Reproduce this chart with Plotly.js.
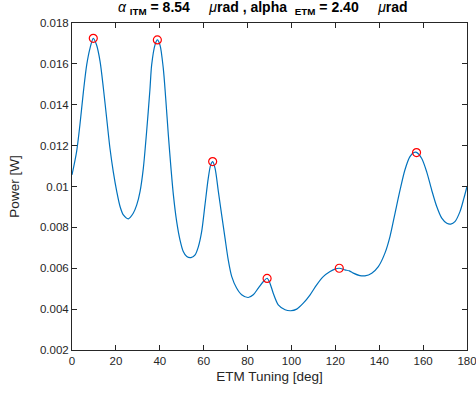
<!DOCTYPE html>
<html>
<head>
<meta charset="utf-8">
<script src="https://cdn.plot.ly/plotly-3.0.1.min.js"></script>
<style>html,body{margin:0;padding:0;background:#fff;}#chart{width:476px;height:394px;}</style>
</head>
<body>
<div id="chart"></div>
<script>
var tuningDeg = [0,2.1,3.6,5.2,6.7,8.2,9.7,11.2,12.8,14.3,15.8,17.3,18.8,20.4,21.9,23.4,25.7,27.9,29.5,31.0,32.5,34.0,35.5,36.3,37.8,38.9,40.1,41.6,42.7,43.9,45.1,46.2,47.7,49.2,50.7,52.3,54.2,56.1,57.6,59.1,60.6,62.1,63.2,64.1,65.2,66.7,68.2,69.7,71.2,72.8,75.0,77.3,80.3,82.6,84.9,87.2,88.9,90.2,91.7,94.0,97.1,99.7,102.4,105.4,108.5,111.5,114.5,117.6,119.8,121.8,124.4,126.4,128.2,131.2,133.5,136.6,139.6,142.6,144.9,147.2,149.5,151.7,154.0,155.8,157.0,159.3,161.6,163.9,166.2,168.5,170.8,172.6,174.5,176.8,178.6,180];
var powerW = [0.01057,0.01171,0.01301,0.01464,0.01595,0.01676,0.01725,0.01692,0.01611,0.01481,0.01334,0.01187,0.01073,0.00975,0.00902,0.00861,0.00842,0.00869,0.0091,0.00975,0.01089,0.01268,0.01472,0.01595,0.01692,0.01717,0.01692,0.01578,0.01432,0.01252,0.0109,0.00959,0.00828,0.00739,0.00682,0.00657,0.00652,0.00666,0.00706,0.0078,0.0091,0.01041,0.01106,0.01122,0.01089,0.00975,0.00861,0.0075,0.00641,0.00559,0.00503,0.0047,0.00457,0.0047,0.00503,0.00535,0.00551,0.00527,0.00478,0.00421,0.00397,0.00392,0.004,0.00429,0.0047,0.00519,0.00559,0.00584,0.00596,0.006,0.00592,0.00587,0.00576,0.00564,0.00563,0.00576,0.00608,0.00674,0.00755,0.00869,0.00983,0.01081,0.01146,0.01166,0.01167,0.01138,0.01073,0.00983,0.00902,0.00845,0.0082,0.00816,0.00828,0.00877,0.00943,0.01];
var peakDeg = [9.7, 38.9, 64.1, 88.9, 121.8, 157.0];
var peakPower = [0.01725, 0.01717, 0.01122, 0.0055, 0.006, 0.01166];
var xTicks = [0,20,40,60,80,100,120,140,160,180];
var yTicks = [0.002,0.004,0.006,0.008,0.01,0.012,0.014,0.016,0.018];
var yTickText = ['0.002','0.004','0.006','0.008','0.01','0.012','0.014','0.016','0.018'];

var sp = '\u00A0';
var titleText = '<i>α</i>' + sp + '<sub><b>ITM</b></sub>' + '<b>' + sp + '= 8.54</b>' + sp+sp+sp+sp+sp +
  '<i>μ</i><b>rad , alpha </b>' + sp + '<sub><b>ETM</b></sub>' + '<b>' + sp + '= 2.40</b>' + sp+sp+sp+sp+sp + '<i>μ</i><b>rad</b>';

var fontFam = 'Liberation Sans, Arial, sans-serif';
var axisCommon = {
  showgrid: false, zeroline: false, showline: true, linecolor: '#262626', linewidth: 1,
  mirror: 'ticks', ticks: 'inside', ticklen: 5, tickcolor: '#262626', tickwidth: 1,
  ticklabeloverflow: 'allow',
  tickfont: {family: fontFam, size: 11.5, color: '#262626'}
};

var data = [
  {x: tuningDeg, y: powerW, type: 'scatter', mode: 'lines',
   line: {color: '#0072BD', width: 1.2, shape: 'spline', smoothing: 0.8}, hoverinfo: 'none'},
  {x: peakDeg, y: peakPower, type: 'scatter', mode: 'markers',
   marker: {symbol: 'circle-open', size: 8, color: '#FF0000', line: {width: 1.2, color: '#FF0000'}}, hoverinfo: 'none'}
];

var layout = {
  width: 476, height: 394,
  margin: {l: 72, r: 9, t: 23, b: 44},
  paper_bgcolor: '#ffffff', plot_bgcolor: '#ffffff',
  showlegend: false,
  title: {text: titleText, x: 0.552, xanchor: 'center', y: 0.995, yanchor: 'top',
          font: {family: fontFam, size: 14, color: '#000000'}},
  xaxis: Object.assign({}, axisCommon, {
    range: [0, 180], tickvals: xTicks, ticktext: xTicks.map(String),
    title: {text: 'ETM Tuning [deg]', standoff: 5, font: {family: fontFam, size: 13.5, color: '#262626'}}
  }),
  yaxis: Object.assign({}, axisCommon, {
    range: [0.002, 0.018], tickvals: yTicks, ticktext: yTickText,
    title: {text: 'Power [W]', standoff: 17, font: {family: fontFam, size: 13.5, color: '#262626'}}
  })
};

Plotly.newPlot('chart', data, layout, {staticPlot: true, displayModeBar: false});
</script>
</body>
</html>
